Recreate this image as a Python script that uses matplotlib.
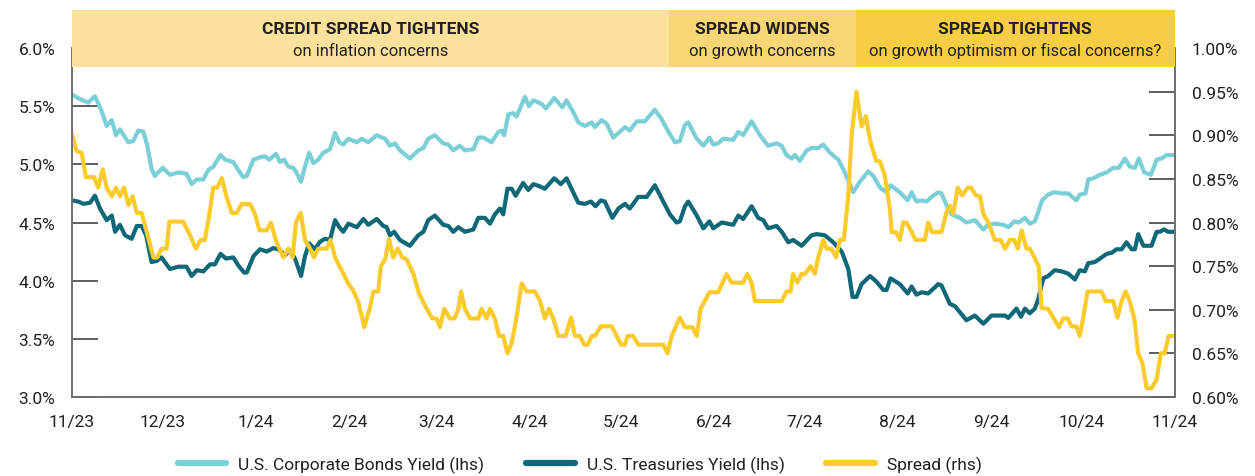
import pandas as pd
import matplotlib
matplotlib.use('Agg')
import matplotlib.pyplot as plt
import matplotlib.transforms as mtransforms
from matplotlib.patches import Rectangle
from matplotlib.ticker import FuncFormatter

plt.rcParams['font.family'] = ['Liberation Sans Narrow', 'Roboto', 'DejaVu Sans']

START = pd.Timestamp('2023-11-01')

# days since START and values
corp_days = [0, 2.7, 5.4, 7.6, 9.8, 11.5, 13.2, 14.6, 15.9, 18.7, 20.3, 22.0, 23.7, 25.0, 26.4, 27.5, 30.1,
             32.5, 35.3, 38.0, 39.7, 41.4, 43.6, 45.2, 46.9, 49.3, 50.8, 53.5, 55.2, 56.8, 58.0, 60.2, 62.4,
             64.0, 65.4, 67.7, 69.0, 70.4, 71.8, 73.4, 74.5, 76.0, 77.3, 78.7, 80.1, 81.7, 83.4, 85.6, 87.3,
             88.7, 90.0, 91.7, 94.5, 96.1, 98.3, 101.1, 103.9, 105.5, 107.2, 108.8, 112.1, 114.9, 116.6,
             118.2, 120.4, 123.2, 124.9, 126.5, 128.7, 130.4, 133.2, 134.8, 136.5, 139.2, 141.5, 142.6,
             143.4, 144.8, 146.4, 147.5, 150.3, 151.6, 153.1, 155.8, 157.3, 160.0, 162.7, 164.1, 166.3,
             168.0, 170.2, 172.4, 173.5, 175.7, 177.4, 179.6, 181.8, 183.5, 185.1, 187.4, 190.1, 193.4,
             195.6, 197.9, 200.1, 201.7, 203.4, 204.5, 207.3, 209.5, 211.5, 212.8, 214.4, 216.1, 219.4,
             221.1, 222.7, 225.5, 228.3, 231.0, 233.8, 235.5, 237.1, 238.8, 239.9, 241.5, 243.8, 245.4,
             247.6, 249.3, 251.5, 254.3, 255.9, 257.6, 259.2, 261.4, 264.2, 265.9, 268.1, 270.3, 271.6,
             274.7, 277.3, 278.6, 280.2, 281.9, 283.6, 285.2, 287.4, 288.5, 290.2, 291.9, 294.6, 296.8,
             299.6, 302.4, 304.0, 306.2, 309.0, 310.7, 312.7, 314.2, 316.2, 317.8, 319.5, 320.6, 321.9,
             323.9, 325.9, 328.4, 330.6, 333.3, 334.4, 336.3, 337.2, 338.9, 341.1, 343.3, 345.5, 347.4,
             349.4, 351.0, 352.7, 354.0, 355.8, 358.0, 359.9, 361.5, 363.2, 365.7]
corp_yield = [5.60, 5.56, 5.53, 5.585, 5.46, 5.33, 5.38, 5.25, 5.30, 5.19, 5.20, 5.29, 5.28, 5.16, 4.96, 4.90, 4.97,
              4.91, 4.93, 4.92, 4.83, 4.87, 4.87, 4.95, 4.98, 5.08, 5.04, 5.02, 4.95, 4.89, 4.90, 5.04, 5.06,
              5.07, 5.04, 5.09, 5.02, 5.04, 4.98, 4.97, 4.93, 4.85, 4.98, 5.10, 5.01, 5.04, 5.10, 5.13, 5.27,
              5.19, 5.17, 5.22, 5.19, 5.22, 5.19, 5.25, 5.22, 5.16, 5.18, 5.12, 5.05, 5.12, 5.14,
              5.22, 5.25, 5.18, 5.17, 5.12, 5.16, 5.12, 5.13, 5.23, 5.23, 5.19, 5.28, 5.29,
              5.25, 5.43, 5.44, 5.41, 5.58, 5.50, 5.55, 5.52, 5.48, 5.57, 5.49, 5.55, 5.45,
              5.36, 5.33, 5.36, 5.32, 5.38, 5.35, 5.23, 5.28, 5.32, 5.29, 5.37, 5.37, 5.47,
              5.39, 5.28, 5.19, 5.20, 5.34, 5.36, 5.22, 5.16, 5.23, 5.17, 5.18, 5.22, 5.21,
              5.28, 5.25, 5.37, 5.25, 5.16, 5.18, 5.16, 5.08, 5.05, 5.08, 5.03, 5.12, 5.14,
              5.14, 5.17, 5.10, 5.04, 4.96, 4.86, 4.76, 4.85, 4.94, 4.90, 4.80, 4.76, 4.82,
              4.76, 4.69, 4.76, 4.68, 4.69, 4.68, 4.72, 4.76, 4.75, 4.65, 4.57, 4.54, 4.50,
              4.52, 4.44, 4.48, 4.49, 4.48, 4.46, 4.51, 4.50, 4.54, 4.49, 4.51, 4.59, 4.69,
              4.74, 4.76, 4.75, 4.75, 4.69, 4.74, 4.75, 4.87, 4.88, 4.91, 4.93, 4.97, 4.97,
              5.05, 4.98, 4.97, 5.05, 4.93, 4.91, 5.04, 5.05, 5.08, 5.08]

tsy_days = [0, 2.1, 3.8, 6.0, 7.6, 9.3, 11.5, 13.2, 14.3, 15.9, 17.6, 19.8, 21.5, 23.1, 24.6, 26.4, 28.1, 29.7,
            32.5, 35.3, 38.0, 39.7, 41.4, 43.6, 45.8, 47.4, 49.3, 51.1, 53.5, 55.2, 57.1, 58.0, 60.2, 62.4,
            64.6, 66.8, 68.5, 70.7, 72.3, 74.0, 76.0, 77.3, 78.7, 80.6, 82.3, 83.9, 85.6, 87.3, 88.7, 90.0,
            91.7, 94.5, 96.7, 98.3, 101.1, 103.3, 104.4, 105.5, 106.9, 108.8, 112.1, 114.9, 116.6, 118.2,
            120.4, 123.2, 124.9, 126.5, 128.2, 130.4, 133.2, 134.8, 137.0, 138.7, 140.3, 142.0, 143.1,
            144.5, 145.9, 147.2, 149.7, 151.4, 153.1, 155.3, 156.9, 160.0, 162.2, 164.1, 166.3, 168.0,
            170.2, 172.2, 173.7, 175.5, 176.8, 179.3, 181.3, 183.5, 185.1, 187.9, 190.7, 193.4, 195.6,
            198.4, 200.6, 201.7, 203.4, 204.5, 207.3, 209.5, 211.5, 212.8, 215.6, 219.4, 221.1, 222.7,
            225.5, 227.7, 229.4, 231.0, 233.8, 235.5, 237.7, 239.3, 242.1, 245.4, 247.1, 249.8, 252.6,
            255.4, 257.6, 259.0, 260.3, 262.0, 264.8, 267.0, 269.2, 270.3, 271.6, 274.7, 277.3, 278.6,
            280.2, 281.9, 284.1, 285.8, 287.4, 288.5, 291.3, 293.0, 295.2, 296.8, 299.6, 302.4, 305.1,
            307.3, 309.6, 310.7, 313.4, 314.9, 316.2, 317.8, 319.5, 320.6, 322.3, 323.9, 326.1, 328.4,
            330.6, 332.8, 334.4, 336.1, 337.2, 339.4, 341.1, 343.3, 345.0, 346.6, 348.3, 349.9, 351.6,
            352.7, 353.8, 355.5, 358.2, 359.9, 361.0, 362.4, 363.7, 365.7]
tsy_yield = [4.69, 4.68, 4.66, 4.67, 4.73, 4.62, 4.52, 4.56, 4.42, 4.48, 4.39, 4.36, 4.47, 4.47, 4.39, 4.16, 4.17, 4.20,
             4.10, 4.12, 4.12, 4.04, 4.09, 4.08, 4.14, 4.14, 4.23, 4.19, 4.20, 4.13, 4.07, 4.07, 4.21, 4.27,
             4.25, 4.28, 4.27, 4.22, 4.26, 4.19, 4.04, 4.21, 4.32, 4.27, 4.335, 4.36, 4.35, 4.52, 4.46, 4.42,
             4.49, 4.46, 4.53, 4.48, 4.53, 4.47, 4.46, 4.39, 4.42, 4.35, 4.30, 4.39, 4.42, 4.52,
             4.56, 4.48, 4.47, 4.42, 4.46, 4.42, 4.44, 4.54, 4.54, 4.49, 4.57, 4.62, 4.57,
             4.79, 4.79, 4.73, 4.84, 4.78, 4.83, 4.81, 4.79, 4.88, 4.83, 4.88, 4.76, 4.67,
             4.66, 4.68, 4.64, 4.69, 4.68, 4.54, 4.62, 4.66, 4.62, 4.72, 4.72, 4.82, 4.71,
             4.57, 4.50, 4.51, 4.64, 4.68, 4.56, 4.45, 4.51, 4.45, 4.50, 4.48, 4.56, 4.53,
             4.64, 4.54, 4.52, 4.45, 4.47, 4.42, 4.33, 4.35, 4.30, 4.39, 4.40, 4.39, 4.33,
             4.25, 4.10, 3.86, 3.86, 3.97, 4.04, 3.99, 3.92, 3.92, 4.02, 3.97, 3.89, 3.95,
             3.88, 3.90, 3.89, 3.93, 3.97, 3.96, 3.80, 3.78, 3.71, 3.66, 3.70, 3.63, 3.70,
             3.70, 3.70, 3.68, 3.76, 3.69, 3.76, 3.72, 3.76, 3.84, 4.02, 4.04, 4.09, 4.08,
             4.06, 4.01, 4.09, 4.08, 4.15, 4.16, 4.19, 4.23, 4.24, 4.27, 4.27, 4.33, 4.27,
             4.27, 4.40, 4.30, 4.30, 4.42, 4.42, 4.44, 4.42, 4.42]

spread_days = [0, 1.5, 3.2, 4.6, 6.0, 7.3, 8.7, 10.2, 11.5, 13.2, 14.6, 15.9, 17.3, 18.7, 20.1, 21.5, 23.1, 24.8,
               27.0, 28.3, 29.7, 31.4, 32.3, 34.7, 36.9, 39.2, 41.1, 42.7, 44.1, 45.6, 46.9, 48.2, 49.7, 51.3,
               53.0, 54.6, 56.3, 59.1, 60.7, 62.2, 64.6, 66.0, 67.7, 70.1, 71.8, 73.2, 74.3, 75.9, 77.3, 79.0,
               80.3, 81.7, 84.5, 85.8, 87.3, 89.5, 91.7, 93.3, 95.0, 97.0, 98.9, 100.0, 101.6, 102.5, 103.9,
               105.2, 106.6, 108.1, 109.6, 111.0, 113.3, 115.1, 117.7, 119.6, 121.0, 122.1, 123.5, 125.4,
               126.9, 128.2, 129.1, 130.4, 132.1, 134.8, 135.9, 137.6, 138.7, 140.3, 141.7, 143.1, 144.5,
               145.9, 147.5, 149.2, 150.9, 153.6, 155.3, 156.9, 158.3, 159.7, 161.4, 163.8, 165.6, 166.9,
               168.5, 170.0, 171.1, 172.6, 173.5, 175.5, 179.1, 180.7, 182.2, 183.5, 184.3, 186.2, 187.9,
               196.2, 197.6, 199.0, 201.7, 203.4, 205.9, 207.3, 208.6, 211.5, 214.4, 217.2, 218.9, 222.7,
               224.1, 225.5, 226.6, 235.5, 237.1, 238.4, 239.3, 240.7, 242.1, 243.2, 245.1, 246.5, 247.6,
               249.3, 250.4, 252.0, 253.5, 254.8, 256.1, 257.6, 258.7, 260.3, 262.0, 263.4, 265.0, 266.8,
               268.1, 269.7, 271.4, 272.0, 273.4, 274.7, 275.8, 276.9, 278.6, 279.9, 283.0, 284.1, 285.4,
               288.5, 290.2, 291.3, 292.4, 293.9, 295.4, 297.2, 298.3, 299.9, 301.3, 302.4, 304.2, 306.2,
               308.2, 309.6, 311.2, 312.7, 313.8, 315.1, 316.7, 317.8, 319.5, 320.8, 321.7, 323.9, 325.6,
               327.5, 328.9, 330.4, 331.7, 333.3, 334.4, 335.5, 337.0, 341.6, 343.0, 345.5, 346.9, 348.3,
               349.6, 351.0, 352.5, 353.8, 355.1, 356.6, 358.2, 359.9, 361.3, 362.6, 363.9, 365.7]
spread = [0.901, 0.882, 0.880, 0.852, 0.852, 0.852, 0.840, 0.861, 0.840, 0.830, 0.840, 0.830, 0.840, 0.820, 0.830,
          0.811, 0.811, 0.789, 0.760, 0.760, 0.770, 0.770, 0.801, 0.801, 0.801, 0.785, 0.770, 0.780, 0.780, 0.810,
          0.840, 0.840, 0.851, 0.829, 0.811, 0.811, 0.821, 0.821, 0.810, 0.791, 0.791, 0.800, 0.779, 0.760,
          0.770, 0.760, 0.800, 0.811, 0.780, 0.770, 0.760, 0.770, 0.770, 0.780, 0.760, 0.745, 0.730, 0.722,
          0.709, 0.680, 0.703, 0.721, 0.721, 0.750, 0.758, 0.781, 0.760, 0.770, 0.760, 0.758, 0.741, 0.719,
          0.701, 0.690, 0.690, 0.680, 0.701, 0.690, 0.690, 0.701, 0.721, 0.701, 0.690, 0.690, 0.701, 0.690,
          0.701, 0.690, 0.670, 0.670, 0.650, 0.662, 0.691, 0.730, 0.721, 0.721, 0.710, 0.690, 0.701, 0.690,
          0.670, 0.670, 0.691, 0.670, 0.670, 0.660, 0.660, 0.670, 0.670, 0.681, 0.681, 0.670, 0.660, 0.660,
          0.670, 0.670, 0.660, 0.660, 0.650, 0.670, 0.691, 0.680, 0.680, 0.670, 0.701, 0.720, 0.720, 0.741,
          0.731, 0.731, 0.741, 0.731, 0.710, 0.710, 0.721, 0.721, 0.741, 0.731, 0.741, 0.741, 0.750, 0.741,
          0.760, 0.780, 0.770, 0.770, 0.760, 0.780, 0.780, 0.831, 0.900, 0.950, 0.910, 0.922, 0.892, 0.871,
          0.870, 0.854, 0.815, 0.789, 0.789, 0.780, 0.800, 0.800, 0.789, 0.780, 0.780, 0.800, 0.789, 0.789,
          0.812, 0.819, 0.810, 0.840, 0.831, 0.840, 0.840, 0.831, 0.830, 0.810, 0.799, 0.780, 0.780, 0.770,
          0.780, 0.780, 0.770, 0.791, 0.770, 0.770, 0.759, 0.749, 0.702, 0.701, 0.691, 0.680, 0.690, 0.690,
          0.681, 0.681, 0.670, 0.690, 0.721, 0.721, 0.710, 0.710, 0.691, 0.710, 0.721, 0.710, 0.690, 0.650,
          0.640, 0.610, 0.610, 0.620, 0.650, 0.650, 0.670, 0.670]

month_ticks = ['2023-11-01', '2023-12-01', '2024-01-01', '2024-02-01', '2024-03-01', '2024-04-01', '2024-05-01',
               '2024-06-01', '2024-07-01', '2024-08-01', '2024-09-01', '2024-10-01', '2024-11-01']
month_labels = ['11/23', '12/23', '1/24', '2/24', '3/24', '4/24', '5/24', '6/24', '7/24', '8/24', '9/24',
                '10/24', '11/24']

# header bands: (start, end, title, subtitle, colour)
phase_edges = ['2023-11-01', '2024-05-17', '2024-07-18', '2024-11-01']
phase_titles = ['CREDIT SPREAD TIGHTENS', 'SPREAD WIDENS', 'SPREAD TIGHTENS']
phase_subtitles = ['on inflation concerns', 'on growth concerns', 'on growth optimism or fiscal concerns?']
phase_colors = ['#fbe19b', '#f9d675', '#f8cd46']

CORP = '#7bcfd6'
TSY = '#0f6877'
SPR = '#f9cb2c'
TXT = '#231f20'
AXC = '#6d6e71'


def to_dates(days):
    return START + pd.to_timedelta(days, unit='D')


fig = plt.figure(figsize=(12.55, 4.77), dpi=100)
ax = fig.add_axes([72 / 1255, 1 - 398 / 477, 1103 / 1255, 349 / 477])
ax2 = ax.twinx()

l1, = ax.plot(to_dates(corp_days), corp_yield, color=CORP, lw=3.0, solid_joinstyle='round')
l2, = ax.plot(to_dates(tsy_days), tsy_yield, color=TSY, lw=3.0, solid_joinstyle='round')
l3, = ax2.plot(to_dates(spread_days), spread, color=SPR, lw=3.0, solid_joinstyle='round')

ax.set_xlim(pd.Timestamp('2023-11-01'), pd.Timestamp('2024-11-01'))
ax.set_ylim(3.0, 6.0)
ax2.set_ylim(0.60, 1.00)
ax.set_yticks([3.0, 3.5, 4.0, 4.5, 5.0, 5.5, 6.0])
ax2.set_yticks([0.60, 0.65, 0.70, 0.75, 0.80, 0.85, 0.90, 0.95, 1.00])
ax.yaxis.set_major_formatter(FuncFormatter(lambda v, p: f'{v:.1f}%'))
ax2.yaxis.set_major_formatter(FuncFormatter(lambda v, p: f'{v:.2f}%'))
ax.set_xticks(pd.to_datetime(month_ticks))
ax.set_xticklabels(month_labels)

for a in (ax, ax2):
    a.spines['top'].set_visible(False)
    for s in ('left', 'right', 'bottom'):
        a.spines[s].set_color(AXC)
        a.spines[s].set_linewidth(1.2)
    a.tick_params(axis='y', direction='in', length=19, width=1.1, color='#333333',
                  labelsize=12.5, labelcolor=TXT, pad=12)
ax.tick_params(axis='x', length=0, labelsize=12.5, labelcolor=TXT, pad=12)

# header bands above the plot
trans = mtransforms.blended_transform_factory(ax.transData, ax.transAxes)
ymin_band = 1 - 68 / 477
ymax_band = 1 - 11 / 477
y0 = (ymin_band - ax.get_position().y0) / ax.get_position().height
y1 = (ymax_band - ax.get_position().y0) / ax.get_position().height
edges = pd.to_datetime(phase_edges)
for i in range(3):
    x0 = matplotlib.dates.date2num(edges[i])
    x1 = matplotlib.dates.date2num(edges[i + 1])
    rect = Rectangle((x0, y0), x1 - x0, y1 - y0, transform=trans, facecolor=phase_colors[i],
                     edgecolor='none', clip_on=False, zorder=10)
    ax2.add_patch(rect)
    xm = (x0 + x1) / 2
    ax2.text(xm, y0 + (y1 - y0) * 0.68, phase_titles[i], transform=trans, ha='center', va='center',
             fontsize=12.5, fontweight='bold', color=TXT, zorder=11, clip_on=False)
    ax2.text(xm, y0 + (y1 - y0) * 0.29, phase_subtitles[i], transform=trans, ha='center', va='center',
             fontsize=12, color=TXT, zorder=11, clip_on=False)

leg = fig.legend([l1, l2, l3], ['U.S. Corporate Bonds Yield (lhs)', 'U.S. Treasuries Yield (lhs)', 'Spread (rhs)'],
                 loc='center', bbox_to_anchor=(0.462, 0.025), ncol=3, frameon=False, fontsize=12.5,
                 handlelength=2.8, handletextpad=0.7, columnspacing=2.4, labelcolor=TXT)
for h in leg.get_lines():
    h.set_linewidth(4.5)
    h.set_solid_capstyle('round')

fig.savefig('out.png', dpi=100)
